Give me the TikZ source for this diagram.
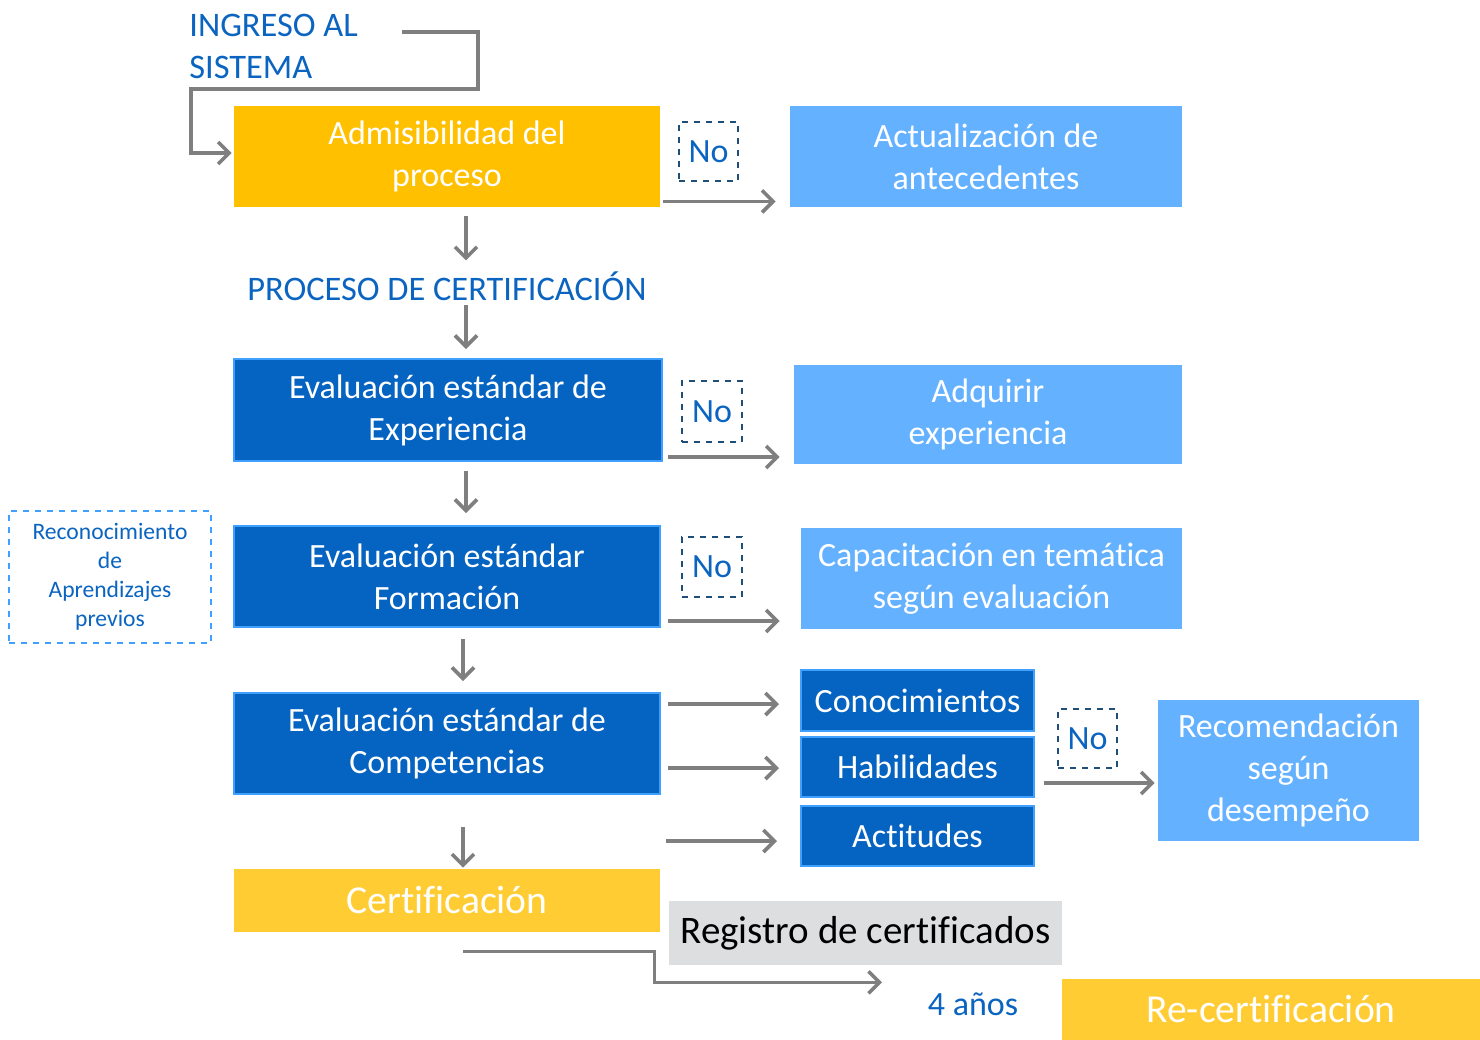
\documentclass[tikz,border=0pt]{standalone}
\usepackage{fontspec}
\setmainfont{Carlito}[Ligatures=CommonOff]
\usepackage{tikz}
\usepackage{xcolor}
\usetikzlibrary{arrows.meta}

\definecolor{amarillo}{HTML}{FFC000}
\definecolor{amarilloclaro}{HTML}{FFCD33}
\definecolor{celeste}{HTML}{64B2FF}
\definecolor{azul}{HTML}{0563C1}
\definecolor{bordeazul}{HTML}{3FA0FF}
\definecolor{textoazul}{HTML}{0A64C0}
\definecolor{marino}{HTML}{1F4E79}
\definecolor{gris}{HTML}{7F7F7F}
\definecolor{grisclaro}{HTML}{DDDEE0}

\tikzset{
  caja/.style={rectangle, inner sep=0pt, align=center, text=white,
    font=\fontsize{17}{21}\selectfont},
  paso/.style={caja, fill=azul, draw=bordeazul, line width=1pt},
  remedio/.style={caja, fill=celeste},
  nobox/.style={rectangle, draw=marino, dashed, line width=1pt, inner sep=0pt,
    text=textoazul, font=\fontsize{17}{20}\selectfont},
  flecha/.style={draw=gris, line width=1.8pt, -{Straight Barb[length=5.5pt,width=11pt]}},
}

\begin{document}
\begin{tikzpicture}[x=0.5pt, y=-0.5pt]
\useasboundingbox (0,0) rectangle (1480,1040);

% entrada
\node[anchor=west, align=left, text=textoazul, inner sep=0pt,
  font=\fontsize{17.2}{21}\selectfont] (ingreso) at (189,46) {INGRESO AL\\SISTEMA};
\coordinate (entrada) at (402,32);

\node[caja, fill=amarillo, minimum width=213pt, minimum height=50.5pt] (adm) at (447,156.5) {Admisibilidad del\\proceso};
\node[nobox, minimum width=29.5pt, minimum height=29.5pt] (no1) at (708.5,151.5) {No};
\node[remedio, minimum width=196pt, minimum height=50.5pt] (actual) at (986,156.5) {Actualización de\\antecedentes};

\node[text=textoazul, inner sep=0pt, font=\fontsize{17.2}{20}\selectfont] (proceso) at (447,286) {PROCESO DE CERTIFICACIÓN};

\node[paso, minimum width=214pt, minimum height=51pt] (exp) at (448,410) {Evaluación estándar de\\Experiencia};
\node[nobox, minimum width=30pt, minimum height=30.5pt] (no2) at (712,411.5) {No};
\node[remedio, minimum width=194pt, minimum height=49.5pt] (adq) at (988,414.5) {Adquirir\\experiencia};

\node[rectangle, draw=bordeazul, dashed, line width=1pt, inner sep=0pt, align=center,
  text=textoazul, font=\fontsize{11.8}{14.5}\selectfont,
  minimum width=101pt, minimum height=66pt] (recon) at (110,577) {Reconocimiento\\de\\Aprendizajes\\previos};
\node[paso, minimum width=213pt, minimum height=50.5pt] (form) at (447,576.5) {Evaluación estándar\\Formación};
\node[nobox, minimum width=30pt, minimum height=30pt] (no3) at (712,567) {No};
\node[remedio, minimum width=190.5pt, minimum height=50.5pt] (capac) at (991.5,578.5) {Capacitación en temática\\según evaluación};

\node[paso, minimum width=213pt, minimum height=50.5pt] (comp) at (447,743.5) {Evaluación estándar de\\Competencias};
\node[paso, minimum width=116.5pt, minimum height=30.5pt] (conoc) at (917.5,700.5) {Conocimientos};
\node[paso, minimum width=116.5pt, minimum height=30pt] (habil) at (917.5,767) {Habilidades};
\node[paso, minimum width=116.5pt, minimum height=30pt] (actit) at (917.5,836) {Actitudes};
\node[nobox, minimum width=29.5pt, minimum height=29.5pt] (no4) at (1087.5,738.5) {No};
\node[remedio, minimum width=130.5pt, minimum height=70.5pt] (recom) at (1288.5,770.5) {Recomendación\\según\\desempeño};

\node[caja, fill=amarilloclaro, minimum width=213pt, minimum height=31.5pt,
  font=\fontsize{19.8}{22}\selectfont] (cert) at (447,900.5) {Certificación};
\node[caja, fill=grisclaro, text=black, minimum width=196.5pt, minimum height=32pt,
  font=\fontsize{19.5}{22}\selectfont] (regis) at (865.5,933) {Registro de certificados};
\node[text=textoazul, inner sep=0pt, font=\fontsize{17}{20}\selectfont] (anos) at (973,1004) {4 años};
\node[caja, fill=amarilloclaro, minimum width=209pt, minimum height=30.5pt,
  font=\fontsize{19.8}{22}\selectfont] (recert) at (1271,1009.5) {Re-certificación};

% conectores
\draw[flecha] (entrada) -- ++(38pt,0) -- ++(0,-28.5pt) -- ++(-143.5pt,0)
  |- ([xshift=-1pt,yshift=1.75pt]adm.west);
\draw[flecha] ([xshift=1.5pt,yshift=3pt]adm.south east) -- ([xshift=-7pt,yshift=3pt]actual.west |- adm.south);
\draw[flecha] ([xshift=9.5pt,yshift=-4.5pt]adm.south) -- ++(0,-22pt);
\draw[flecha] ([xshift=9pt,yshift=26.5pt]exp.north) -- ([xshift=9pt,yshift=4.5pt]exp.north);
\draw[flecha] ([xshift=2.5pt,yshift=2.5pt]exp.south east) -- ([xshift=-7pt,yshift=2.5pt]adq.west |- exp.south);
\draw[flecha] ([xshift=9pt,yshift=-4.5pt]exp.south) -- ([xshift=9.5pt,yshift=6pt]form.north);
\draw[flecha] ([xshift=3.5pt,yshift=3.5pt]form.south east) -- ([xshift=-10.5pt,yshift=3.5pt]capac.west |- form.south);
\draw[flecha] ([xshift=8pt,yshift=-5.5pt]form.south) -- ([xshift=8pt,yshift=5.5pt]comp.north);
\draw[flecha] ([xshift=3.5pt,yshift=-1.75pt]comp.east |- conoc.west) -- ([xshift=-10.5pt,yshift=-1.75pt]conoc.west);
\draw[flecha] ([xshift=3.5pt,yshift=-0.5pt]comp.east |- habil.west) -- ([xshift=-10.5pt,yshift=-0.5pt]habil.west);
\draw[flecha] ([xshift=2.5pt,yshift=-2.5pt]comp.east |- actit.west) -- ([xshift=-11.5pt,yshift=-2.5pt]actit.west);
\draw[flecha] ([xshift=4.5pt,yshift=-8pt]habil.east) -- ([xshift=-1.5pt,yshift=-8pt]recom.west |- habil.east);
\draw[flecha] ([xshift=8pt,yshift=-16pt]comp.south) -- ([xshift=8pt,yshift=0.5pt]cert.north);
\draw[flecha] ([xshift=8pt,yshift=-9.5pt]cert.south) -| ([xshift=-7pt,yshift=-8.5pt]regis.south west)
  -- ([xshift=8.25pt,yshift=-8.5pt]regis.south);
\end{tikzpicture}
\end{document}
